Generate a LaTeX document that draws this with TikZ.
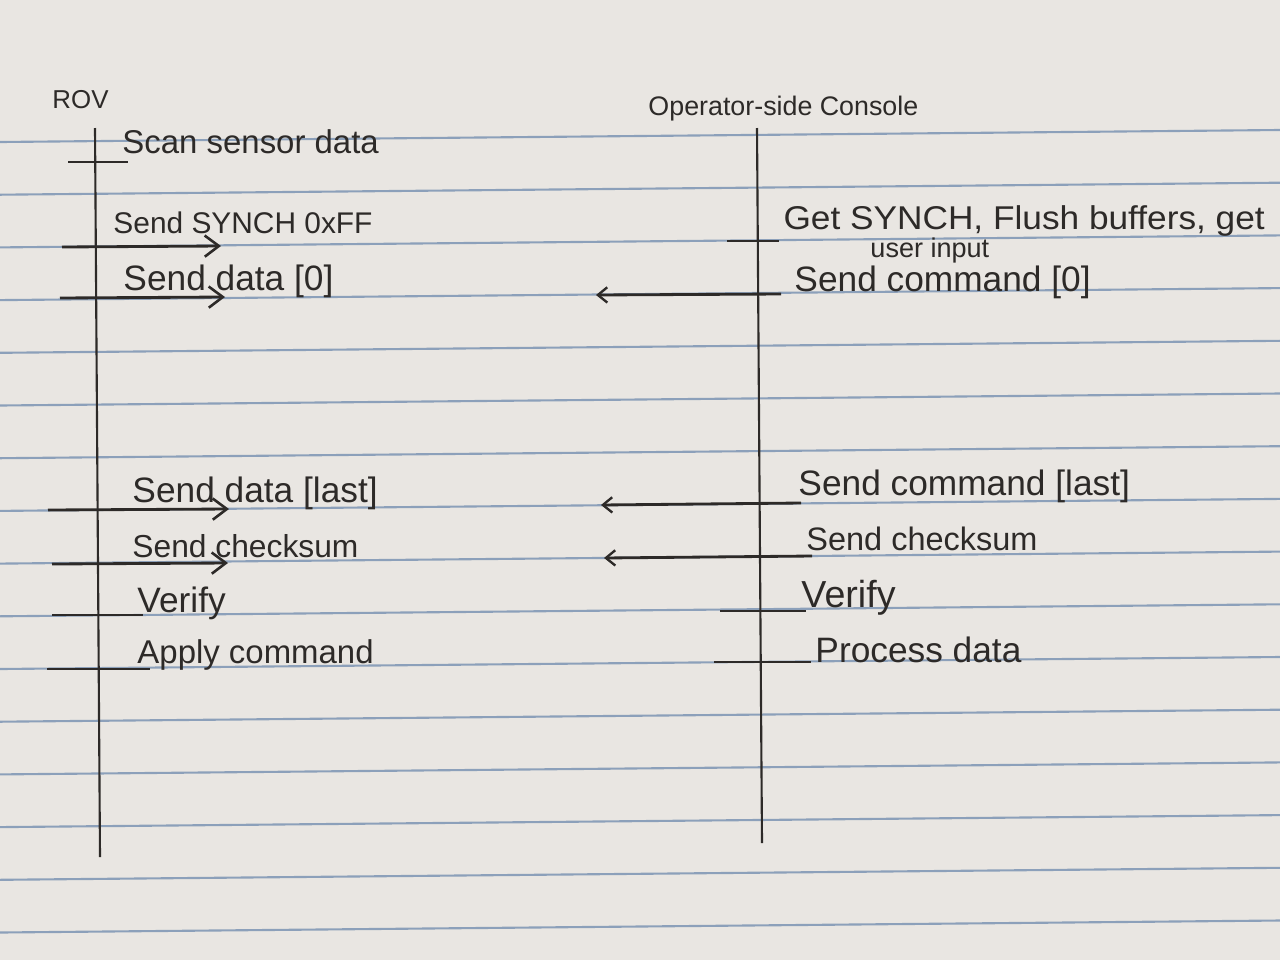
\documentclass[tikz,border=0pt]{standalone}
\usepackage{fontspec}
\setmainfont{Liberation Sans}
\usetikzlibrary{arrows.meta}
\definecolor{paper}{RGB}{233,230,226}
\definecolor{rule}{RGB}{140,160,186}
\definecolor{ink}{RGB}{45,42,40}
\tikzset{
  x=0.425pt, y=-0.425pt,
  ruled/.style={draw=rule, line width=0.9pt},
  lifeline/.style={draw=ink, line width=0.9pt},
  tick/.style={draw=ink, line width=1.2pt},
  msgR/.style={draw=ink, line width=1.2pt, -{Straight Barb[length=6pt,width=9pt,line width=1.1pt]}},
  msgL/.style={draw=ink, line width=1.2pt, -{Straight Barb[length=4pt,width=6.5pt,line width=1pt]}},
  lbl/.style={anchor=base west, inner sep=0pt, text=ink, font=\fontsize{15}{17}\selectfont},
}
\begin{document}
\begin{tikzpicture}
\useasboundingbox (0,0) rectangle (1280,960);
\fill[paper] (0,0) rectangle (1280,960);
% ruled paper lines
\foreach \k in {0,...,15} {
  \pgfmathsetmacro{\yl}{142+52.7*\k}
  \draw[ruled] (0,\yl) -- (1280,\yl-12);
}
% participants
\node[lbl, font=\fontsize{11}{13}\selectfont] (rov) at (52,108) {ROV};
\node[lbl, font=\fontsize{11.4}{13}\selectfont] (con) at (648,115) {Operator-side Console};
% lifelines
\coordinate (rovtop) at (95,128);
\coordinate (rovbot) at (100,857);
\coordinate (contop) at (757,128);
\coordinate (conbot) at (762,843);
\draw[lifeline] (rovtop) -- (rovbot);
\draw[lifeline] (contop) -- (conbot);
% ROV side
\node[lbl, font=\fontsize{14}{16}\selectfont] (scan) at (122,153) {Scan sensor data};
\coordinate (t1a) at (68,162); \coordinate (t1b) at (128,162);
\draw[tick] (t1a) -- (t1b);

\node[lbl, font=\fontsize{12.7}{15}\selectfont] (synch) at (113,233) {Send SYNCH 0xFF};
\coordinate (a1s) at (62,247); \coordinate (a1e) at (221,246);
\draw[msgR] (a1s) -- (a1e);

\node[lbl] (data0) at (123,290) {Send data [0]};
\coordinate (a2s) at (60,298); \coordinate (a2e) at (225,297);
\draw[msgR] (a2s) -- (a2e);

\node[lbl] (datal) at (132,502) {Send data [last]};
\coordinate (a3s) at (48,510); \coordinate (a3e) at (229,509);
\draw[msgR] (a3s) -- (a3e);

\node[lbl, font=\fontsize{13.5}{16}\selectfont] (cksL) at (132,557) {Send checksum};
\coordinate (a4s) at (52,564); \coordinate (a4e) at (228,563);
\draw[msgR] (a4s) -- (a4e);

\node[lbl] (verL) at (137,612) {Verify};
\coordinate (t2a) at (52,615); \coordinate (t2b) at (143,615);
\draw[tick] (t2a) -- (t2b);

\node[lbl, font=\fontsize{14}{16}\selectfont] (apply) at (137,663) {Apply command};
\coordinate (t3a) at (47,669); \coordinate (t3b) at (150,669);
\draw[tick] (t3a) -- (t3b);

% Console side
\node[lbl, font=\fontsize{14}{16}\selectfont, xscale=1.07] (getsync) at (783,229) {Get SYNCH, Flush buffers, get};
\node[lbl, font=\fontsize{11.5}{14}\selectfont] (uinput) at (870,257) {user input};
\coordinate (t4a) at (727,241); \coordinate (t4b) at (779,241);
\draw[tick] (t4a) -- (t4b);

\node[lbl] (cmd0) at (794,291) {Send command [0]};
\coordinate (b1s) at (781,294); \coordinate (b1e) at (596,295);
\draw[msgL] (b1s) -- (b1e);

\node[lbl] (cmdl) at (798,495) {Send command [last]};
\coordinate (b2s) at (801,503); \coordinate (b2e) at (601,505);
\draw[msgL] (b2s) -- (b2e);

\node[lbl, font=\fontsize{13.8}{16}\selectfont] (cksR) at (806,550) {Send checksum};
\coordinate (b3s) at (812,556); \coordinate (b3e) at (604,558);
\draw[msgL] (b3s) -- (b3e);

\node[lbl, font=\fontsize{16}{18}\selectfont] (verR) at (801,607) {Verify};
\coordinate (t5a) at (720,611); \coordinate (t5b) at (806,611);
\draw[tick] (t5a) -- (t5b);

\node[lbl] (proc) at (815,662) {Process data};
\coordinate (t6a) at (714,662); \coordinate (t6b) at (811,662);
\draw[tick] (t6a) -- (t6b);
\end{tikzpicture}
\end{document}
